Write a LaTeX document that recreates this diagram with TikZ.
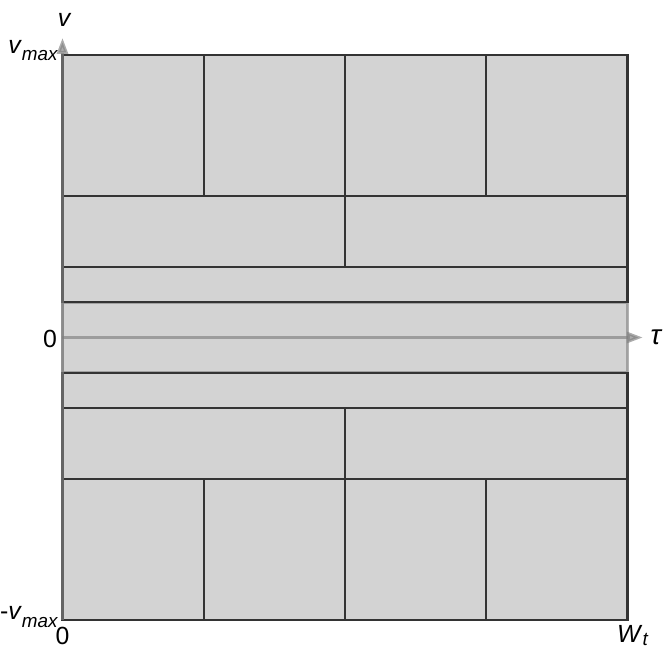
\documentclass[tikz,border=0pt]{standalone}
\usepackage{fontspec}
\setmainfont{Liberation Sans}
\usetikzlibrary{arrows.meta}
\definecolor{cellgray}{HTML}{D3D3D3}
\newcommand{\sublbl}[2][-4pt]{\raisebox{#1}{\fontsize{9.5}{10}\selectfont\textit{#2}}}
\tikzset{
    cell/.style={draw=black!80, fill=cellgray, line width=1.1pt},
    band/.style={draw=gray, draw opacity=0.6, fill=cellgray, line width=1.5pt},
    axis/.style={draw=gray, opacity=0.65, line width=1.5pt, -{Triangle[width=5.5pt, length=8pt]}},
    lbl/.style={inner sep=0pt, font=\fontsize{12.5}{14}\selectfont},
}
\begin{document}
\begin{tikzpicture}
    \useasboundingbox (-1.106,-0.496) rectangle (10.699,10.973);

    % middle band round the tau axis
    \draw[band] (0,4.375) rectangle (10,5.625);

    % quarter cells, top and bottom
    \foreach \x in {0,2.5,5,7.5} {
        \draw[cell] (\x,7.5) rectangle ++(2.5,2.5);
        \draw[cell] (\x,0) rectangle ++(2.5,2.5);
    }
    % half cells
    \foreach \x in {0,5} {
        \draw[cell] (\x,6.25) rectangle ++(5,1.25);
        \draw[cell] (\x,2.5) rectangle ++(5,1.25);
    }
    % thin strips
    \draw[cell] (0,5.625) rectangle (10,6.25);
    \draw[cell] (0,3.75) rectangle (10,4.375);

    % axes
    \coordinate (O) at (0,0);
    \coordinate (vtip) at (0,10.3);
    \coordinate (tstart) at (0,5);
    \coordinate (ttip) at (10.27,5);
    \draw[axis] (O) -- (vtip);
    \draw[axis] (tstart) -- (ttip);

    \node[lbl, anchor=base] (vname) at (0.04,10.51) {\textit{v}};
    \node[lbl, anchor=base east] (vmaxtop) at (-0.07,10.035) {\textit{v}\sublbl{max}};
    \node[lbl, anchor=base east] (vmaxbot) at (-0.07,0) {-\textit{v}\sublbl{max}};
    \node[lbl, anchor=base east] (zerov) at (-0.09,4.83) {0};
    \node[lbl, anchor=base] (zerot) at (0,-0.43) {0};
    \node[lbl, anchor=base west] (wt) at (9.81,-0.39) {\textit{W}\sublbl[-1.5pt]{t}};
    \node[lbl, anchor=base west, font=\fontsize{14}{16}\selectfont] (tau) at (10.40,4.87) {\textit{τ}};
\end{tikzpicture}
\end{document}
